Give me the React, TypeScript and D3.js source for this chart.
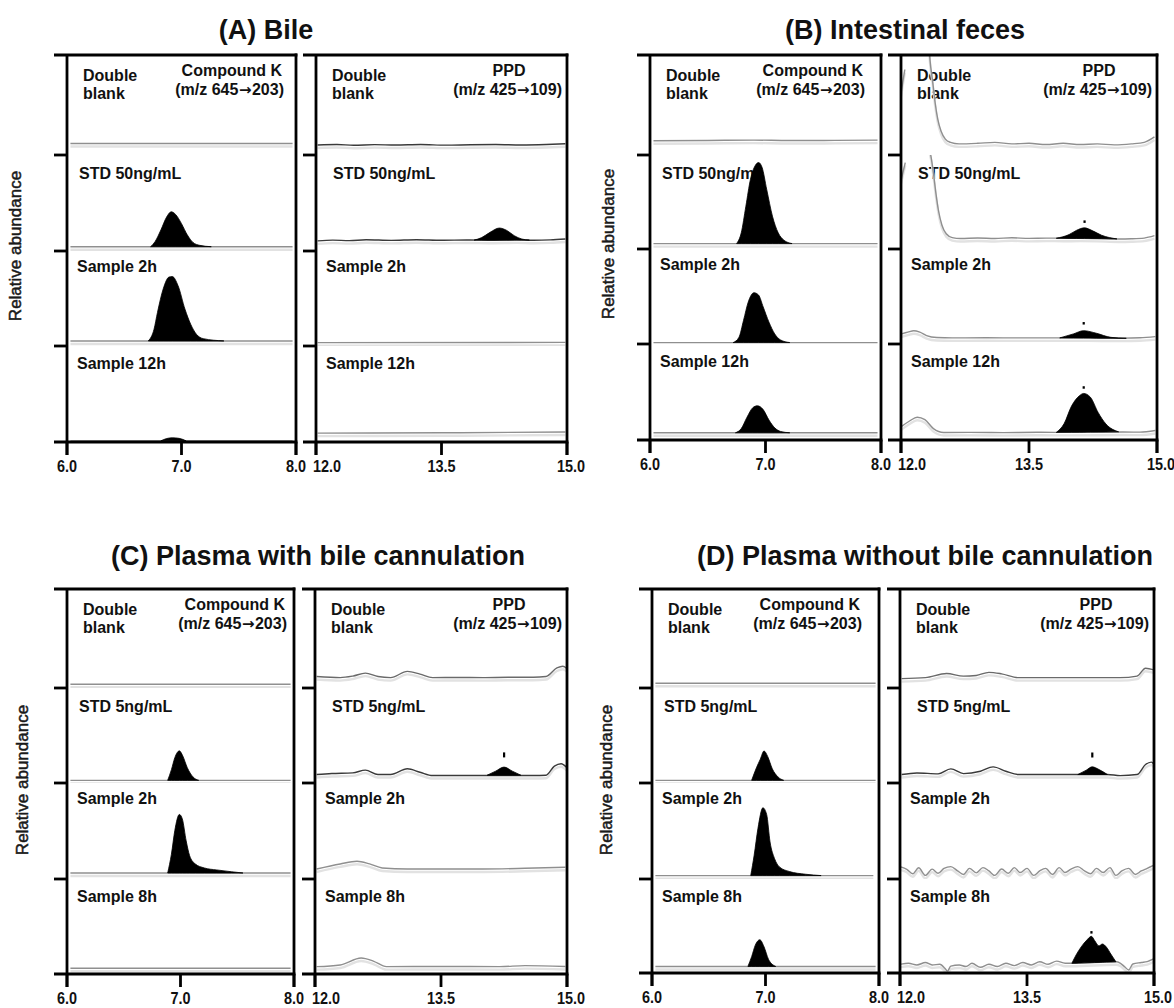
import React from 'react';
import * as d3 from 'd3';

type Pt = [number, number];
type Tone = 'light' | 'mid' | 'dark';
interface Trace { segs: Pt[][]; peak?: Pt[]; dot?: Pt; tone: Tone; }

// ---------------- tick labels / text ----------------
const ckTicks = [6.0, 7.0, 8.0];
const ppdTicks = [12.0, 13.5, 15.0];
const panelTitles = ['(A) Bile', '(B) Intestinal feces', '(C) Plasma with bile cannulation', '(D) Plasma without bile cannulation'];
const rowLabelsBile = ['STD 50ng/mL', 'Sample 2h', 'Sample 12h'];
const rowLabelsPlasma = ['STD 5ng/mL', 'Sample 2h', 'Sample 8h'];

// ---------------- (A) Bile: Compound K ----------------
const A_CK_blank: Pt[] = [[6.03, 12], [7.97, 12]];
const A_CK_std: Pt[] = [[6.03, 4.5], [7.97, 4.5]];
const A_CK_stdPeak: Pt[] = [[6.73, 4.5], [6.77, 10], [6.82, 22], [6.87, 35.5], [6.91, 41], [6.95, 38], [7.0, 28.6], [7.05, 17], [7.1, 9], [7.16, 5.9], [7.26, 4.5]];
const A_CK_2h: Pt[] = [[6.03, 5.3], [7.97, 5.3]];
const A_CK_2hPeak: Pt[] = [[6.71, 5.3], [6.76, 17.5], [6.79, 35], [6.84, 59.6], [6.89, 72], [6.92, 72.6], [6.97, 63], [7.03, 38.6], [7.08, 22.8], [7.13, 12.3], [7.19, 7.7], [7.37, 5.3]];
const A_CK_12h: Pt[] = [[6.03, 1.2], [7.97, 1.2]];
const A_CK_12hPeak: Pt[] = [[6.82, 1.2], [6.87, 3.6], [6.92, 4.4], [6.98, 3.8], [7.04, 1.2]];

// ---------------- (A) Bile: PPD ----------------
const A_PPD_blank: Pt[] = [[12.02, 10.5], [12.25, 10.9], [12.45, 10.2], [12.7, 10.8], [12.95, 10.4], [13.25, 10.9], [13.55, 10.3], [13.85, 10.7], [14.15, 10.9], [14.45, 10.4], [14.75, 10.9], [14.98, 11.7]];
const A_PPD_std: Pt[] = [[12.02, 10.6], [12.2, 11.4], [12.4, 10.8], [12.6, 11.8], [12.9, 11.1], [13.2, 11.8], [13.5, 11.2], [13.8, 11.5], [14.1, 11.3], [14.4, 11.6], [14.6, 11.2], [14.8, 11.6], [14.98, 12.6]];
const A_PPD_stdPeak: Pt[] = [[13.89, 11.4], [13.98, 14], [14.08, 19.5], [14.19, 24], [14.28, 21.5], [14.37, 16], [14.46, 12.5], [14.55, 11.4]];
const A_PPD_2h: Pt[] = [[12.02, 3.5], [14.98, 3.8]];
const A_PPD_12h: Pt[] = [[12.02, 9.3], [13.5, 9.6], [14.98, 10.5]];

// ---------------- (B) Intestinal feces: Compound K ----------------
const B_CK_blank: Pt[] = [[6.03, 15], [6.5, 15.3], [6.9, 15.7], [7.2, 15.2], [7.6, 15.4], [7.97, 15.7]];
const B_CK_std: Pt[] = [[6.03, 5.7], [7.97, 5.7]];
const B_CK_stdPeak: Pt[] = [[6.75, 5.7], [6.79, 17], [6.83, 45], [6.87, 73.5], [6.91, 87.6], [6.94, 91], [6.97, 86], [7.01, 63], [7.06, 34.6], [7.11, 17], [7.16, 9.2], [7.23, 5.7]];
const B_CK_2h: Pt[] = [[6.03, 1.5], [7.97, 1.5]];
const B_CK_2hPeak: Pt[] = [[6.72, 1.5], [6.77, 7], [6.81, 25], [6.85, 44], [6.9, 54], [6.94, 51.5], [6.98, 39], [7.03, 23], [7.08, 10.6], [7.13, 4.3], [7.21, 1.5]];
const B_CK_12h: Pt[] = [[6.03, 7.6], [7.97, 7.6]];
const B_CK_12hPeak: Pt[] = [[6.74, 7.6], [6.79, 12], [6.84, 24], [6.89, 34], [6.93, 36], [6.98, 32], [7.03, 21], [7.08, 12.8], [7.13, 9], [7.21, 7.6]];

// ---------------- (B) Intestinal feces: PPD ----------------
const B_PPD_blankFront: Pt[] = [[12.0, 65], [12.045, 90]];
const B_PPD_blank: Pt[] = [[12.33, 112], [12.34, 100], [12.37, 78], [12.4, 55], [12.43, 38], [12.47, 25], [12.52, 16.7], [12.58, 13.3], [12.68, 11.7], [12.9, 12.3], [13.1, 13.3], [13.3, 11.7], [13.5, 12.3], [13.7, 11], [13.9, 12.3], [14.1, 11], [14.3, 11.7], [14.5, 10.7], [14.7, 11.7], [14.85, 13.3], [14.97, 19]];
const B_PPD_stdFront: Pt[] = [[12.0, 72], [12.05, 91]];
const B_PPD_std: Pt[] = [[12.33, 106], [12.35, 98], [12.38, 80], [12.41, 58], [12.44, 40], [12.48, 25], [12.53, 16], [12.6, 12], [12.7, 11], [12.9, 11.6], [13.1, 11], [13.3, 11.8], [13.5, 11.2], [13.7, 11.5], [13.9, 11.3], [14.1, 11.4], [14.3, 11.2], [14.55, 10.6], [14.7, 10.8], [14.85, 11.5], [14.97, 14]];
const B_PPD_stdPeak: Pt[] = [[13.82, 11.3], [13.97, 15.2], [14.06, 19.8], [14.15, 22.3], [14.24, 19.4], [14.35, 14.5], [14.53, 10.6]];
const B_PPD_stdDot: Pt = [14.15, 28];
const B_PPD_2h: Pt[] = [[12.0, 10.6], [12.08, 12.5], [12.15, 14], [12.22, 12.5], [12.3, 8.9], [12.42, 6.8], [12.6, 6.4], [13.0, 6.6], [13.4, 6.4], [13.8, 6.5], [14.2, 6.4], [14.6, 6.2], [14.8, 6.6], [14.98, 7.8]];
const B_PPD_2hPeak: Pt[] = [[13.86, 6.4], [14.02, 10.6], [14.14, 14], [14.29, 11.3], [14.46, 7], [14.64, 6]];
const B_PPD_2hDot: Pt = [14.14, 21];
const B_PPD_12h: Pt[] = [[12.0, 13.8], [12.1, 20], [12.19, 24], [12.28, 21.4], [12.38, 12], [12.5, 7.9], [12.8, 8], [13.2, 7.8], [13.6, 8.1], [14.0, 8], [14.6, 8.4], [14.8, 8.3], [14.98, 10]];
const B_PPD_12hPeak: Pt[] = [[13.82, 8], [13.91, 17], [14.0, 36], [14.09, 46.5], [14.14, 49], [14.22, 45], [14.31, 29], [14.4, 17], [14.55, 8.6]];
const B_PPD_12hDot: Pt = [14.14, 54.5];

// ---------------- (C) Plasma with bile cannulation: Compound K ----------------
const C_CK_blank: Pt[] = [[6.03, 4], [7.97, 4]];
const C_CK_std: Pt[] = [[6.03, 2.8], [7.97, 2.8]];
const C_CK_stdPeak: Pt[] = [[6.887, 2.8], [6.92, 14], [6.95, 26.6], [6.99, 33.7], [7.02, 28.4], [7.06, 16], [7.11, 6.4], [7.16, 2.8]];
const C_CK_2h: Pt[] = [[6.03, 6.3], [7.97, 6.3]];
const C_CK_2hPeak: Pt[] = [[6.887, 6.3], [6.92, 26], [6.95, 51], [6.99, 67.7], [7.016, 63], [7.05, 40], [7.08, 24.6], [7.13, 15.8], [7.21, 11.6], [7.32, 9.5], [7.45, 7.6], [7.55, 6.3]];
const C_CK_8h: Pt[] = [[6.03, 6], [7.97, 6]];

// ---------------- (C) Plasma with bile cannulation: PPD ----------------
const C_PPD_blank: Pt[] = [[12.02, 12], [12.3, 10.9], [12.45, 12.5], [12.6, 15.6], [12.75, 12], [12.9, 10.9], [13.1, 17.4], [13.25, 14.5], [13.4, 10.9], [13.7, 11], [14.0, 10.9], [14.3, 11.2], [14.6, 11.2], [14.75, 12], [14.88, 21], [14.95, 22.8], [15.0, 20.3]];
const C_PPD_std: Pt[] = [[12.02, 8.9], [12.2, 9.9], [12.45, 10.6], [12.6, 13.5], [12.75, 8.9], [12.9, 8.9], [13.1, 14.9], [13.25, 11.3], [13.4, 7.8], [13.7, 7.8], [14.0, 7.8], [14.6, 7.8], [14.75, 8.2], [14.85, 17.7], [14.93, 20.2], [15.0, 16]];
const C_PPD_stdPeak: Pt[] = [[14.05, 8.2], [14.15, 12.4], [14.25, 16.7], [14.35, 12.4], [14.45, 8.2]];
const C_PPD_stdDot: Pt = [14.25, 30];
const C_PPD_2h: Pt[] = [[12.02, 10.5], [12.3, 15.8], [12.5, 18.6], [12.65, 15.8], [12.8, 11.6], [13.1, 10.5], [13.5, 10.5], [14.0, 10.5], [14.5, 11.2], [14.98, 12.3]];
const C_PPD_8h: Pt[] = [[12.02, 7.7], [12.3, 9.5], [12.55, 16.8], [12.7, 13.3], [12.85, 7.7], [13.5, 7.9], [14.2, 7.7], [14.5, 8.8], [14.98, 7.9]];

// ---------------- (D) Plasma without bile cannulation: Compound K ----------------
const D_CK_blank: Pt[] = [[6.03, 5], [7.97, 5]];
const D_CK_std: Pt[] = [[6.03, 2.8], [7.97, 2.8]];
const D_CK_stdPeak: Pt[] = [[6.878, 2.8], [6.92, 16], [6.954, 25], [6.987, 33.7], [7.02, 27.7], [7.06, 14.9], [7.11, 6.4], [7.16, 2.8]];
const D_CK_2h: Pt[] = [[6.03, 3.6], [7.95, 3.6]];
const D_CK_2hPeak: Pt[] = [[6.87, 3.6], [6.9, 25], [6.934, 53.6], [6.977, 75], [7.01, 68], [7.04, 39], [7.08, 21.4], [7.125, 12.5], [7.21, 7.9], [7.355, 5], [7.49, 3.6]];
const D_CK_8h: Pt[] = [[6.03, 6.9], [7.97, 6.9]];
const D_CK_8hPeak: Pt[] = [[6.845, 6.9], [6.878, 17.2], [6.91, 29.3], [6.95, 35], [6.987, 27.6], [7.026, 14.5], [7.09, 6.9]];

// ---------------- (D) Plasma without bile cannulation: PPD ----------------
const D_PPD_blank: Pt[] = [[12.02, 9.9], [12.3, 10.9], [12.55, 15.2], [12.75, 12.5], [12.9, 13.2], [13.05, 16.5], [13.2, 14.9], [13.4, 10.9], [13.7, 10.9], [14.0, 10.9], [14.3, 10.9], [14.6, 10.9], [14.8, 12.5], [14.9, 20.8], [15.0, 19]];
const D_PPD_std: Pt[] = [[12.02, 8.9], [12.2, 10.6], [12.45, 9.6], [12.6, 14.9], [12.75, 9.9], [12.95, 12.4], [13.1, 17], [13.25, 12.4], [13.4, 8.9], [13.7, 8.9], [14.0, 8.9], [14.45, 8.9], [14.6, 7.8], [14.8, 8.9], [14.9, 19.5], [14.97, 22], [15.0, 19.5]];
const D_PPD_stdPeak: Pt[] = [[14.1, 8.9], [14.2, 13.5], [14.27, 17], [14.35, 14.2], [14.45, 8.9]];
const D_PPD_stdDot: Pt = [14.27, 30];
const D_PPD_2h: Pt[] = [[12.0, 13], [12.08, 10.2], [12.15, 5.5], [12.22, 11.8], [12.3, 3.8], [12.38, 10.4], [12.45, 6], [12.52, 11.2], [12.6, 13], [12.68, 8.5], [12.75, 4.8], [12.82, 11.2], [12.9, 6.5], [12.98, 12], [13.05, 8.5], [13.12, 3.8], [13.2, 10.5], [13.28, 6], [13.35, 12], [13.42, 6.8], [13.5, 11.2], [13.58, 3.8], [13.65, 8.5], [13.72, 11.2], [13.8, 4.8], [13.88, 12], [13.95, 6.8], [14.02, 10.5], [14.1, 13], [14.18, 8.5], [14.25, 5.5], [14.32, 11.2], [14.4, 6.8], [14.48, 12], [14.55, 3.8], [14.62, 8.5], [14.7, 11.2], [14.78, 4.8], [14.85, 8.5], [14.92, 11.2], [15.0, 14.5]];
const D_PPD_8h: Pt[] = [[12.0, 9.2], [12.1, 10.2], [12.2, 8.5], [12.3, 11], [12.38, 8.5], [12.47, 9.2], [12.53, 5], [12.56, 2], [12.6, 7.2], [12.7, 8.5], [12.78, 6.8], [12.85, 10.2], [12.95, 6], [13.05, 9.2], [13.15, 6.8], [13.25, 10.2], [13.35, 7.8], [13.45, 11], [13.55, 8.5], [13.65, 11.8], [13.75, 9.2], [13.85, 12.5], [13.95, 10.2], [14.03, 10.2], [14.55, 11.8], [14.6, 10.5], [14.66, 6], [14.7, 3.2], [14.75, 9.5], [14.85, 11], [14.92, 12], [15.0, 15]];
const D_PPD_8hPeak: Pt[] = [[14.03, 10.2], [14.08, 19], [14.14, 27.5], [14.21, 35], [14.26, 38.6], [14.3, 34], [14.35, 28.5], [14.39, 30.5], [14.44, 27], [14.49, 20], [14.55, 11.8]];
const D_PPD_8hDot: Pt = [14.26, 42];

// ---------------- assemble traces (rows top to bottom) ----------------
const tracesCK: Trace[][] = [
  [
    { segs: [A_CK_blank], tone: 'light' },
    { segs: [A_CK_std], peak: A_CK_stdPeak, tone: 'light' },
    { segs: [A_CK_2h], peak: A_CK_2hPeak, tone: 'light' },
    { segs: [A_CK_12h], peak: A_CK_12hPeak, tone: 'light' },
  ],
  [
    { segs: [B_CK_blank], tone: 'light' },
    { segs: [B_CK_std], peak: B_CK_stdPeak, tone: 'light' },
    { segs: [B_CK_2h], peak: B_CK_2hPeak, tone: 'light' },
    { segs: [B_CK_12h], peak: B_CK_12hPeak, tone: 'light' },
  ],
  [
    { segs: [C_CK_blank], tone: 'light' },
    { segs: [C_CK_std], peak: C_CK_stdPeak, tone: 'light' },
    { segs: [C_CK_2h], peak: C_CK_2hPeak, tone: 'light' },
    { segs: [C_CK_8h], tone: 'light' },
  ],
  [
    { segs: [D_CK_blank], tone: 'light' },
    { segs: [D_CK_std], peak: D_CK_stdPeak, tone: 'light' },
    { segs: [D_CK_2h], peak: D_CK_2hPeak, tone: 'light' },
    { segs: [D_CK_8h], peak: D_CK_8hPeak, tone: 'light' },
  ],
];

const tracesPPD: Trace[][] = [
  [
    { segs: [A_PPD_blank], tone: 'dark' },
    { segs: [A_PPD_std], peak: A_PPD_stdPeak, tone: 'dark' },
    { segs: [A_PPD_2h], tone: 'light' },
    { segs: [A_PPD_12h], tone: 'light' },
  ],
  [
    { segs: [B_PPD_blankFront, B_PPD_blank], tone: 'light' },
    { segs: [B_PPD_stdFront, B_PPD_std], peak: B_PPD_stdPeak, dot: B_PPD_stdDot, tone: 'light' },
    { segs: [B_PPD_2h], peak: B_PPD_2hPeak, dot: B_PPD_2hDot, tone: 'light' },
    { segs: [B_PPD_12h], peak: B_PPD_12hPeak, dot: B_PPD_12hDot, tone: 'light' },
  ],
  [
    { segs: [C_PPD_blank], tone: 'mid' },
    { segs: [C_PPD_std], peak: C_PPD_stdPeak, dot: C_PPD_stdDot, tone: 'dark' },
    { segs: [C_PPD_2h], tone: 'light' },
    { segs: [C_PPD_8h], tone: 'light' },
  ],
  [
    { segs: [D_PPD_blank], tone: 'mid' },
    { segs: [D_PPD_std], peak: D_PPD_stdPeak, dot: D_PPD_stdDot, tone: 'dark' },
    { segs: [D_PPD_2h], tone: 'light' },
    { segs: [D_PPD_8h], peak: D_PPD_8hPeak, dot: D_PPD_8hDot, tone: 'light' },
  ],
];

// ---------------- layout (pixels) ----------------
const LAYOUT = [
  { tx: 266, ty: 39, lx: 21, ly: 246, ck: [67, 296], ppd: [316, 567], edges: [55, 155, 251, 346, 442], ckIn: [14, 12] },
  { tx: 905, ty: 39, lx: 614, ly: 244, ck: [650, 881], ppd: [901, 1157], edges: [55, 155, 249, 344, 440], ckIn: [18, 16] },
  { tx: 318, ty: 565, lx: 28, ly: 780, ck: [67, 294], ppd: [315, 567], edges: [589, 688, 783, 879, 974], ckIn: [9, 7] },
  { tx: 925, ty: 565, lx: 612, ly: 780, ck: [652, 879], ppd: [900, 1154], edges: [589, 688, 783, 879, 973], ckIn: [19, 17] },
];

const FONT = '"Liberation Sans", Arial, Helvetica, sans-serif';
const TONE: Record<Tone, string> = { light: '#8f8f8f', mid: '#6a6a6a', dark: '#3a3a3a' };
const AX = 2.8;
const TICK = 13;

interface SubProps {
  id: string; left: number; right: number; edges: number[]; ckIn: number[];
  domain: [number, number]; ticks: number[]; traces: Trace[];
  kind: 'ck' | 'ppd'; rowLabels: string[];
}

function Arrow() {
  return <tspan fontFamily='"DejaVu Sans", sans-serif' fontWeight={700} fontSize={15} dx={0.5}>→</tspan>;
}

function Subplot({ id, left, right, edges, ckIn, domain, ticks, traces, kind, rowLabels }: SubProps) {
  const top = edges[0];
  const bottom = edges[4];
  const rowH = (bottom - edges[1]) / 3;
  const x = d3.scaleLinear().domain(domain).range([left, right]);
  const fmt = d3.format('.1f');

  const lbl = { fontFamily: FONT, fontWeight: 700 as const, fontSize: 16, fill: '#111' };

  return (
    <g>
      <defs>
        {[0, 1, 2, 3].map((i) => (
          <clipPath id={`${id}-r${i}`} key={i}>
            <rect x={left + 1} y={edges[i]} width={right - left - 1} height={edges[i + 1] - edges[i]} />
          </clipPath>
        ))}
      </defs>

      {/* header text */}
      <text {...lbl} x={left + 16} y={top + 26}>Double</text>
      <text {...lbl} x={left + 16} y={top + 44}>blank</text>
      {kind === 'ck' ? (
        <>
          <text {...lbl} x={right - ckIn[0]} y={top + 21} textAnchor="end">Compound K</text>
          <text {...lbl} x={right - ckIn[1]} y={top + 40} textAnchor="end">(m/z 645<Arrow /><tspan dx={0.5}>203)</tspan></text>
        </>
      ) : (
        <>
          <text {...lbl} x={right - 58} y={top + 21} textAnchor="middle">PPD</text>
          <text {...lbl} x={right - 5} y={top + 40} textAnchor="end">(m/z 425<Arrow /><tspan dx={0.5}>109)</tspan></text>
        </>
      )}
      {rowLabels.map((t, i) => (
        <text key={t} {...lbl} x={left + (i === 0 ? (kind === 'ck' ? 12 : 17) : 10)} y={edges[i + 1] + [24, 21, 23][i]}>{t}</text>
      ))}

      {/* traces */}
      {traces.map((tr, i) => {
        const rb = edges[i + 1];
        const y = d3.scaleLinear().domain([0, 100]).range([rb, rb - rowH]);
        const line = d3.line<Pt>().x((d) => x(d[0])).y((d) => y(d[1])).curve(d3.curveMonotoneX);
        let peakPath: string | null = null;
        if (tr.peak) {
          const pk = tr.peak;
          const [t0, b0] = pk[0];
          const [t1, b1] = pk[pk.length - 1];
          const base = (t: number) => b0 + ((b1 - b0) * (t - t0)) / (t1 - t0);
          peakPath = d3.area<Pt>().x((d) => x(d[0])).y0((d) => y(base(d[0]))).y1((d) => y(d[1])).curve(d3.curveMonotoneX)(pk);
        }
        return (
          <g key={i} clipPath={`url(#${id}-r${i})`}>
            {tr.segs.map((s, k) => (
              <path key={`s${k}`} d={line(s) || ''} fill="none" stroke="#e2e2e2" strokeWidth={2.4} transform="translate(0,3)" />
            ))}
            {tr.segs.map((s, k) => (
              <path key={`l${k}`} d={line(s) || ''} fill="none" stroke={TONE[tr.tone]} strokeWidth={1.4} />
            ))}
            {peakPath && <path d={peakPath} fill="#000" stroke="#000" strokeWidth={0.8} />}
            {tr.dot && <rect x={x(tr.dot[0]) - 1} y={y(tr.dot[1]) - 2} width={2.2} height={kind === 'ppd' && tr.tone === 'dark' ? 5 : 2.5} fill="#000" />}
          </g>
        );
      })}

      {/* frame and axes */}
      <line x1={left - TICK} x2={right + AX / 2} y1={top} y2={top} stroke="#000" strokeWidth={AX} />
      <line x1={left - TICK} x2={right + AX / 2} y1={bottom} y2={bottom} stroke="#000" strokeWidth={AX} />
      <line x1={left} x2={left} y1={top} y2={bottom + TICK} stroke="#000" strokeWidth={AX} />
      <line x1={right} x2={right} y1={top - AX / 2} y2={bottom + TICK} stroke="#000" strokeWidth={AX} />
      {edges.slice(1, 4).map((e, i) => (
        <line key={i} x1={left - TICK} x2={left} y1={e} y2={e} stroke="#000" strokeWidth={AX} />
      ))}
      {ticks.map((t) => (
        <line key={t} x1={x(t)} x2={x(t)} y1={bottom} y2={bottom + TICK} stroke="#000" strokeWidth={AX} />
      ))}
      {ticks.map((t, i) => {
        const px = x(t);
        const shiftStart = kind === 'ppd' && i === 0;
        const dx = kind === 'ppd' && i === 2 ? 4 : 0;
        return (
          <text key={`t${t}`} transform={`translate(${shiftStart ? px - 3 : px + dx},${bottom + 30}) scale(0.85,1)`}
            textAnchor={shiftStart ? 'start' : 'middle'} fontFamily={FONT} fontWeight={700} fontSize={17} fill="#111">
            {fmt(t)}
          </text>
        );
      })}
    </g>
  );
}

export default function App() {
  return (
    <svg width={1174} height={1008} style={{ position: 'absolute', left: 0, top: 0, background: '#fff' }}>
      <rect width={1174} height={1008} fill="#fff" />
      {LAYOUT.map((L, p) => (
        <g key={p}>
          <text x={L.tx} y={L.ty} textAnchor="middle" fontFamily={FONT} fontWeight={700} fontSize={27} fill="#111">{panelTitles[p]}</text>
          <text transform={`translate(${L.lx},${L.ly}) rotate(-90)`} textAnchor="middle" fontFamily={FONT} fontSize={17}
            fill="#1a1a1a" stroke="#1a1a1a" strokeWidth={0.5}>Relative abundance</text>
          <Subplot id={`p${p}ck`} left={L.ck[0]} right={L.ck[1]} edges={L.edges} ckIn={L.ckIn} domain={[6, 8]} ticks={ckTicks}
            traces={tracesCK[p]} kind="ck" rowLabels={p < 2 ? rowLabelsBile : rowLabelsPlasma} />
          <Subplot id={`p${p}ppd`} left={L.ppd[0]} right={L.ppd[1]} edges={L.edges} ckIn={L.ckIn} domain={[12, 15]} ticks={ppdTicks}
            traces={tracesPPD[p]} kind="ppd" rowLabels={p < 2 ? rowLabelsBile : rowLabelsPlasma} />
        </g>
      ))}
    </svg>
  );
}
